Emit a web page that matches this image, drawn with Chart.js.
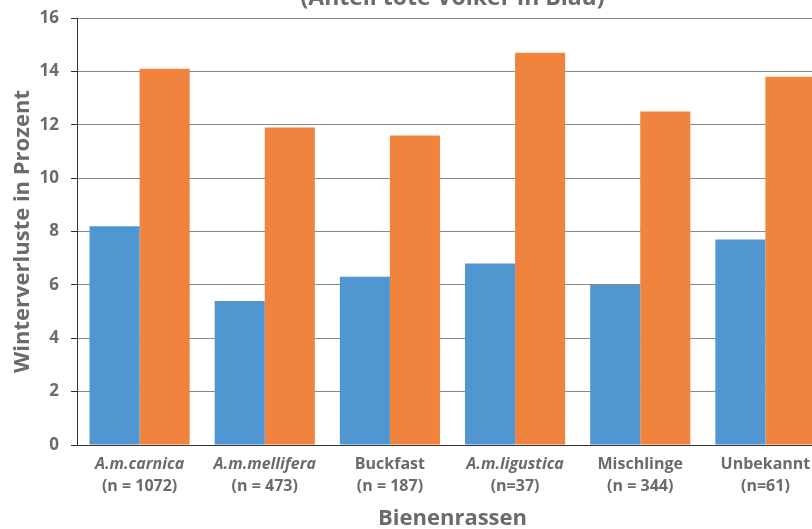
<!DOCTYPE html>
<html>
<head>
<meta charset="utf-8">
<script src="https://cdn.jsdelivr.net/npm/chart.js@4"></script>
<style>
  html, body { margin: 0; padding: 0; background: #fff; overflow: hidden; }
  #wrap { position: absolute; left: 0; top: 0; width: 840px; height: 529px; }
</style>
</head>
<body>
<div id="wrap"><canvas id="c" width="840" height="529"></canvas></div>
<script>
// Bee breeds and sample sizes
const categories = ['A.m.carnica', 'A.m.mellifera', 'Buckfast', 'A.m.ligustica', 'Mischlinge', 'Unbekannt'];
const sampleSizes = ['(n = 1072)', '(n = 473)', '(n = 187)', '(n=37)', '(n = 344)', '(n=61)'];
const italicNames = [true, true, false, true, false, false];

// Winter losses in percent: dead colonies (blue) and total losses (orange)
const deadColonies = [8.2, 5.4, 6.3, 6.8, 6.0, 7.7];
const totalLosses = [14.1, 11.9, 11.6, 14.7, 12.5, 13.8];

// Y axis range
const yMin = 0;
const yMax = 16;
const yStep = 2;

const TEXT = '#6b6b6b';
const FONT = '"Open Sans", "DejaVu Sans", sans-serif';

const labelPlugin = {
  id: 'breedLabels',
  afterDraw(chart) {
    const ctx = chart.ctx;
    const xs = chart.scales.x;
    const area = chart.chartArea;
    const mid = (area.left + area.right) / 2;
    ctx.save();
    ctx.fillStyle = TEXT;
    ctx.textAlign = 'center';
    ctx.textBaseline = 'middle';
    categories.forEach((name, i) => {
      const px = xs.getPixelForValue(i);
      ctx.font = (italicNames[i] ? 'italic ' : '') + 'bold 16px ' + FONT;
      ctx.fillText(name, px, area.bottom + 19);
      ctx.font = 'bold 16px ' + FONT;
      ctx.fillText(sampleSizes[i], px, area.bottom + 41);
    });
    ctx.font = 'bold 22px ' + FONT;
    ctx.fillText('Bienenrassen', mid, area.bottom + 74);
    ctx.textBaseline = 'alphabetic';
    ctx.font = 'bold 23px ' + FONT;
    ctx.fillText('(Anteil tote Völker in Blau)', mid, 5);
    ctx.restore();
  }
};

new Chart(document.getElementById('c'), {
  type: 'bar',
  data: {
    labels: categories,
    datasets: [
      { label: 'Tote Völker', data: deadColonies, backgroundColor: '#5097d2',
        categoryPercentage: 0.8, barPercentage: 1.0 },
      { label: 'Winterverluste', data: totalLosses, backgroundColor: '#f0833d',
        categoryPercentage: 0.8, barPercentage: 1.0 }
    ]
  },
  options: {
    responsive: false,
    animation: false,
    devicePixelRatio: 1,
    layout: { padding: { top: 18, right: 12, left: 0, bottom: 0 } },
    plugins: { legend: { display: false }, tooltip: { enabled: false }, title: { display: false } },
    scales: {
      x: {
        grid: { display: false },
        border: { display: true, color: '#333', width: 1 },
        ticks: { display: false },
        afterFit(s) { s.height = 84; }
      },
      y: {
        min: yMin,
        max: yMax,
        ticks: {
          stepSize: yStep,
          color: TEXT,
          padding: 12,
          font: { family: FONT, size: 17, weight: 'bold' }
        },
        grid: { color: '#8a8a8a', lineWidth: 1, tickLength: 6, tickColor: '#333', drawTicks: true },
        border: { display: true, color: '#333', width: 1 },
        title: {
          display: true,
          text: 'Winterverluste in Prozent',
          color: TEXT,
          padding: { top: 10, bottom: 0 },
          font: { family: FONT, size: 22, weight: 'bold' }
        },
        afterFit(s) {
          s.width = 77;
          s.paddingTop = 0;
          s.paddingBottom = 0;
        }
      }
    }
  },
  plugins: [labelPlugin]
});
</script>
</body>
</html>
